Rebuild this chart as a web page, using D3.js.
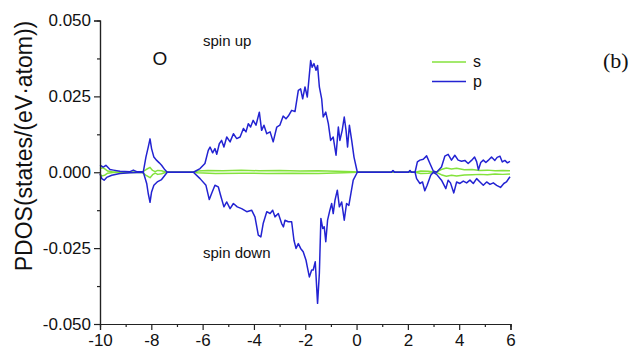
<!DOCTYPE html>
<html>
<head>
	<title>O PDOS</title>
	<script type="text/javascript" src="https://cdn.jsdelivr.net/npm/d3@7/dist/d3.min.js"></script>
	<style type="text/css">
		body{ margin:0; background:#fff; }
		.pdos text{ font-family: 'Liberation Sans', Arial, sans-serif; fill:#111; }
		.pdos .axis path, .pdos .axis line{ stroke:#222; stroke-width:1.2; }
	</style>
</head>
<body>

	<svg width=633 height=350 class="pdos"></svg>
	<script type="text/javascript">

		// energies (eV) and PDOS values
		xTicks = [-10, -8, -6, -4, -2, 0, 2, 4, 6]
		yTicks = [-0.05, -0.025, 0, 0.025, 0.05]

		pUp = [[-10,0.0023],[-9.87,0.0017],[-9.77,0.0023],[-9.61,0.0009],[-9.48,0.0007],[-9.22,0.0003],[-8.83,0.0002],[-8.70,0.0007],[-8.57,0.0002],[-8.31,0.0002],[-8.21,0.005],[-8.12,0.0083],[-8.05,0.011],[-7.99,0.0078],[-7.90,0.005],[-7.79,0.0039],[-7.69,0.0031],[-7.60,0.0023],[-7.47,0.0008],[-7.38,0],[-6.36,0],[-6.10,0.0012],[-5.91,0.0029],[-5.78,0.0072],[-5.71,0.0083],[-5.61,0.0064],[-5.52,0.0078],[-5.45,0.0059],[-5.35,0.0094],[-5.26,0.0105],[-5.17,0.0083],[-5.06,0.0116],[-4.93,0.0100],[-4.80,0.0127],[-4.67,0.0111],[-4.54,0.0116],[-4.41,0.0144],[-4.31,0.0133],[-4.22,0.0160],[-4.13,0.0149],[-4.03,0.0171],[-3.92,0.0155],[-3.79,0.0198],[-3.70,0.0138],[-3.61,0.0155],[-3.50,0.0127],[-3.37,0.0133],[-3.25,0.0100],[-3.11,0.0149],[-2.99,0.0155],[-2.86,0.0185],[-2.75,0.0176],[-2.66,0.0185],[-2.53,0.0204],[-2.40,0.0200],[-2.27,0.0270],[-2.18,0.0275],[-2.10,0.0242],[-2.01,0.0281],[-1.92,0.0248],[-1.79,0.0368],[-1.73,0.0346],[-1.66,0.0358],[-1.58,0.0336],[-1.52,0.0352],[-1.45,0.0281],[-1.36,0.0242],[-1.30,0.0182],[-1.20,0.0198],[-1.10,0.0160],[-1.01,0.0105],[-0.91,0.0116],[-0.80,0.0056],[-0.71,0.0149],[-0.65,0.0105],[-0.56,0.0138],[-0.48,0.0182],[-0.41,0.0138],[-0.35,0.0083],[-0.28,0.0155],[-0.19,0.0105],[-0.10,0.0050],[0.03,0],[1.35,0],[1.42,0.0006],[1.49,0],[2.02,0],[2.08,0.0006],[2.14,0],[2.28,0],[2.37,0.0034],[2.47,0.0040],[2.60,0.0043],[2.73,0.0054],[2.86,0.0029],[2.99,0.0004],[3.12,0],[3.31,0.0017],[3.44,0.0053],[3.57,0.0059],[3.70,0.0040],[3.83,0.0056],[3.96,0.0040],[4.09,0.0036],[4.22,0.0039],[4.35,0.0029],[4.48,0.0039],[4.60,0.0050],[4.68,0.0035],[4.75,0.0008],[4.84,0.0032],[4.94,0.0040],[5.04,0.0032],[5.13,0.0039],[5.26,0.0050],[5.39,0.0039],[5.48,0.0049],[5.59,0.0053],[5.68,0.0034],[5.78,0.0039],[5.88,0.0031],[5.98,0.0036]]

		pDown = [[-10,-0.0005],[-9.93,-0.0021],[-9.84,-0.0026],[-9.74,-0.0017],[-9.54,-0.0010],[-9.22,-0.0004],[-8.83,-0.0002],[-8.31,0],[-8.18,-0.0037],[-8.12,-0.0070],[-8.05,-0.0099],[-7.99,-0.0065],[-7.90,-0.0043],[-7.77,-0.0032],[-7.60,-0.0024],[-7.47,-0.0010],[-7.38,0],[-6.36,0],[-6.10,-0.0021],[-5.87,-0.0043],[-5.74,-0.0090],[-5.65,-0.0070],[-5.52,-0.0043],[-5.39,-0.0048],[-5.30,-0.0076],[-5.17,-0.0114],[-5.06,-0.0098],[-4.93,-0.0120],[-4.80,-0.0103],[-4.65,-0.0114],[-4.48,-0.0120],[-4.28,-0.0130],[-4.09,-0.0125],[-3.96,-0.0147],[-3.83,-0.0207],[-3.73,-0.0213],[-3.64,-0.0169],[-3.50,-0.0130],[-3.37,-0.0136],[-3.27,-0.0125],[-3.18,-0.0147],[-3.05,-0.0136],[-2.92,-0.0169],[-2.85,-0.0180],[-2.79,-0.0158],[-2.66,-0.0163],[-2.53,-0.0163],[-2.44,-0.0224],[-2.36,-0.0251],[-2.27,-0.0235],[-2.18,-0.0251],[-2.08,-0.0262],[-1.97,-0.0290],[-1.92,-0.0312],[-1.84,-0.0345],[-1.75,-0.0322],[-1.69,-0.0322],[-1.61,-0.0295],[-1.52,-0.0432],[-1.45,-0.0333],[-1.39,-0.0152],[-1.32,-0.0185],[-1.26,-0.0180],[-1.20,-0.0229],[-1.13,-0.0158],[-1.04,-0.0125],[-0.97,-0.0103],[-0.91,-0.0136],[-0.84,-0.0092],[-0.75,-0.0059],[-0.67,-0.0114],[-0.58,-0.0098],[-0.48,-0.0158],[-0.39,-0.0103],[-0.30,-0.0109],[-0.22,-0.0070],[-0.13,-0.0026],[0.03,0],[1.35,0],[1.42,0.0004],[1.49,0],[2.02,0],[2.08,0.0004],[2.14,0],[2.28,0],[2.34,-0.0021],[2.47,-0.0037],[2.57,-0.0032],[2.66,-0.0061],[2.75,-0.0043],[2.89,-0.0010],[2.99,0],[3.12,-0.0007],[3.31,-0.0026],[3.48,-0.0054],[3.57,-0.0026],[3.66,-0.0035],[3.79,-0.0068],[3.90,-0.0032],[4.03,-0.0037],[4.16,-0.0029],[4.29,-0.0035],[4.42,-0.0026],[4.55,-0.0037],[4.68,-0.0021],[4.81,-0.0032],[4.94,-0.0043],[5.07,-0.0032],[5.20,-0.0040],[5.33,-0.0035],[5.46,-0.0043],[5.61,-0.0050],[5.74,-0.0037],[5.84,-0.0032],[5.98,-0.0015]]

		sUp = [[-10,0.0012],[-9.9,0.0015],[-9.8,0.0010],[-9.7,0.0004],[-9.5,0.0001],[-8.35,0.0001],[-8.2,0.0009],[-8.05,0.0016],[-7.95,0.0006],[-7.85,0.0002],[-7.75,0.0006],[-7.6,0.0005],[-7.45,0.0001],[-7.38,0],[-6.36,0],[-6.2,0.0004],[-5.8,0.0006],[-5.2,0.0005],[-4.5,0.0007],[-3.8,0.0005],[-3.0,0.0006],[-2.2,0.0004],[-1.5,0.0005],[-0.8,0.0003],[-0.1,0.0002],[0.03,0],[2.28,0],[2.5,0.0004],[2.8,0.0003],[3.1,0],[3.3,0.0009],[3.5,0.0014],[3.7,0.0011],[3.9,0.0013],[4.2,0.0008],[4.5,0.0009],[4.8,0.0006],[5.1,0.0007],[5.4,0.0005],[5.7,0.0006],[5.98,0.0005]]

		sDown = [[-10,-0.0008],[-9.9,-0.0012],[-9.8,-0.0009],[-9.7,-0.0003],[-9.5,-0.0001],[-8.35,-0.0001],[-8.2,-0.0010],[-8.05,-0.0018],[-7.95,-0.0008],[-7.85,-0.0003],[-7.75,-0.0007],[-7.6,-0.0005],[-7.45,-0.0001],[-7.38,0],[-6.36,0],[-6.2,-0.0002],[-5.5,-0.0004],[-4.5,-0.0003],[-3.5,-0.0004],[-2.5,-0.0003],[-1.5,-0.0004],[-0.5,-0.0002],[0.03,0],[2.28,0],[2.5,-0.0004],[2.8,-0.0003],[3.1,0],[3.3,-0.0008],[3.5,-0.0013],[3.7,-0.0010],[3.9,-0.0012],[4.2,-0.0009],[4.5,-0.0008],[4.8,-0.0007],[5.1,-0.0008],[5.4,-0.0006],[5.7,-0.0007],[5.98,-0.0006]]

		series = [
			{'name':'s', 'color':'#84e23c', 'curves':[sUp, sDown]},
			{'name':'p', 'color':'#2323d2', 'curves':[pUp, pDown]}
		]

		svg = d3.select('.pdos')

		x = d3.scaleLinear().domain([-10, 6]).range([100, 510.5])
		y = d3.scaleLinear().domain([-0.05, 0.05]).range([324, 20.5])

		line = d3.line()
			.x(function(d){ return x(d[0]) })
			.y(function(d){ return y(d[1]) })

		// curves, s under p
		series.forEach(function(s){
			svg.append('g')
				.selectAll('path')
				.data(s.curves)
				.enter()
				.append('path')
				.attr('d', line)
				.attr('fill', 'none')
				.attr('stroke', s.color)
				.attr('stroke-width', 1.5)
				.attr('stroke-linejoin', 'round')
		})

		// minor ticks first, then the labelled axes
		svg.append('g')
			.attr('class', 'axis')
			.attr('transform', 'translate(0,324)')
			.call(d3.axisBottom(x).tickValues(d3.range(-9, 6, 2)).tickSize(3).tickFormat(''))
		svg.append('g')
			.attr('class', 'axis')
			.attr('transform', 'translate(100,0)')
			.call(d3.axisLeft(y).tickValues([-0.0375, -0.0125, 0.0125, 0.0375]).tickSize(3).tickFormat(''))

		xAxis = svg.append('g')
			.attr('class', 'axis')
			.attr('transform', 'translate(0,324)')
			.call(d3.axisBottom(x).tickValues(xTicks).tickSize(6).tickPadding(4)
				.tickFormat(function(d){ return String(d) }))
		yAxis = svg.append('g')
			.attr('class', 'axis')
			.attr('transform', 'translate(100,0)')
			.call(d3.axisLeft(y).tickValues(yTicks).tickSize(6).tickPadding(3)
				.tickFormat(function(d){ return d.toFixed(3) }))

		svg.selectAll('.axis text')
			.attr('font-size', 17)
			.attr('font-family', null)

		svg.append('text')
			.attr('transform', 'translate(32,146) rotate(-90)')
			.attr('text-anchor', 'middle')
			.attr('font-size', 23)
			.text('PDOS(states/(eV\u00b7atom))')

		// annotations
		svg.append('text').attr('x', 160).attr('y', 65).attr('text-anchor', 'middle')
			.attr('font-size', 19).text('O')
		svg.append('text').attr('x', 203).attr('y', 46).attr('font-size', 15).text('spin up')
		svg.append('text').attr('x', 203).attr('y', 258).attr('font-size', 15).text('spin down')
		svg.append('text').attr('x', 603).attr('y', 68).attr('font-size', 22)
			.style('font-family', "'Liberation Serif', 'Times New Roman', serif").text('(b)')

		legend = svg.append('g')
			.selectAll('g')
			.data(series)
			.enter()
			.append('g')
			.attr('transform', function(d, i){ return 'translate(432,' + (62 + i * 19.5) + ')' })
		legend.append('line')
			.attr('x1', 0).attr('x2', 34)
			.attr('stroke', function(d){ return d.color })
			.attr('stroke-width', 1.5)
		legend.append('text')
			.attr('x', 41).attr('dy', '0.32em')
			.attr('font-size', 16)
			.text(function(d){ return d.name })

	</script>

</body>
</html>
